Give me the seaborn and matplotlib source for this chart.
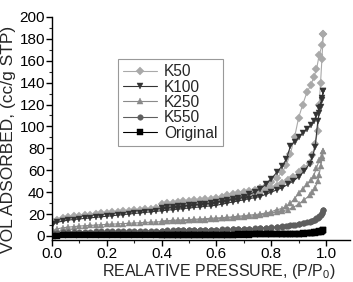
import matplotlib
matplotlib.use("Agg")
import matplotlib.pyplot as plt
import seaborn as sns
from matplotlib.ticker import MultipleLocator

# relative pressure points, adsorption branch and desorption branch
p_ads = [0.005, 0.02, 0.04, 0.06, 0.08, 0.10, 0.12, 0.14, 0.16, 0.18,
         0.20, 0.22, 0.24, 0.26, 0.28, 0.30, 0.32, 0.34, 0.36, 0.38,
         0.40, 0.42, 0.44, 0.46, 0.48, 0.50, 0.52, 0.54, 0.56, 0.58,
         0.60, 0.62, 0.64, 0.66, 0.68, 0.70, 0.72, 0.74, 0.76, 0.78,
         0.80, 0.82, 0.84, 0.86, 0.88, 0.90, 0.92, 0.94, 0.95, 0.96,
         0.97, 0.975, 0.98, 0.985, 0.99]
p_des = [0.99, 0.985, 0.975, 0.965, 0.955, 0.945, 0.93, 0.915, 0.90, 0.885,
         0.87, 0.855, 0.84, 0.82, 0.80, 0.78, 0.76, 0.74, 0.72, 0.70,
         0.68, 0.66, 0.64, 0.62, 0.60, 0.58, 0.56, 0.54, 0.52, 0.50,
         0.48, 0.46, 0.44, 0.42, 0.40]

k50_ads = [13, 15, 16, 17, 18, 18.5, 19, 19.5, 20, 20.5,
           21, 21.5, 22, 22.5, 23, 23.5, 24, 24.5, 25, 25.5,
           26, 26.5, 27, 27.5, 28, 28.5, 29, 29.5, 30, 30.5,
           31, 32, 33, 34, 35, 36, 37, 38, 40, 42,
           44, 46, 48, 51, 54, 58, 62, 67, 74, 84,
           96, 120, 140, 162, 184]
k50_des = [184, 174, 165, 152, 145, 138, 131, 120, 108, 90,
           75, 65, 58, 53, 49, 46, 44, 42, 41, 40,
           39, 38, 37, 36, 35, 34, 33.5, 33, 32.5, 32,
           31.5, 31, 30.5, 30, 29.5]

k100_ads = [11, 12.5, 13.5, 14.5, 15, 15.5, 16, 16.5, 17, 17.5,
            18, 18.5, 19, 19.5, 20, 20.5, 21, 21.5, 22, 22.5,
            23, 23.5, 24, 24.5, 25, 25.5, 26, 26.5, 27, 27.5,
            28, 29, 30, 31, 32, 33, 34, 35, 36, 38,
            40, 42, 44, 47, 50, 54, 59, 66, 72, 81,
            105, 112, 118, 124, 132]
k100_des = [132, 126, 117, 110, 105, 101, 98, 94, 90, 86,
            82, 70, 64, 58, 52, 47, 43, 40, 38, 36,
            35, 34, 33, 32, 31, 30, 29.5, 29, 28.5, 28,
            27.5, 27, 26.5, 26, 25.5]

k250_ads = [5, 6.5, 7.5, 8, 8.5, 9, 9.3, 9.6, 9.9, 10.2,
            10.5, 10.8, 11, 11.3, 11.5, 11.8, 12, 12.3, 12.5, 12.8,
            13, 13.3, 13.5, 13.8, 14, 14.3, 14.5, 14.8, 15, 15.3,
            15.6, 16, 16.4, 16.8, 17.2, 17.6, 18, 18.5, 19, 20,
            21, 22, 23, 24, 26, 29, 33, 37, 40, 44,
            50, 56, 64, 71, 78]
k250_des = [78, 73, 69, 62, 55, 51, 47, 43, 39, 34,
            30, 27, 25, 24, 22, 21, 20, 19.5, 19, 18.5,
            18, 17.5, 17, 16.7, 16.4, 16.1, 15.8, 15.5, 15.2, 15,
            14.7, 14.5, 14.2, 14, 13.7]

k550_ads = [2.5, 3, 3.3, 3.5, 3.7, 3.8, 3.9, 4, 4.1, 4.2,
            4.3, 4.4, 4.4, 4.5, 4.5, 4.6, 4.6, 4.7, 4.7, 4.8,
            4.8, 4.9, 4.9, 5, 5, 5.1, 5.2, 5.3, 5.4, 5.5,
            5.6, 5.7, 5.8, 5.9, 6, 6.2, 6.4, 6.6, 6.9, 7.2,
            7.6, 8, 8.5, 9.2, 10, 11, 12, 13, 14, 15,
            16.5, 17.5, 19, 21, 24]
k550_des = [24, 21, 18, 16, 14.5, 13.5, 12.5, 11.5, 11, 10.3,
            9.7, 9.2, 8.8, 8.3, 7.9, 7.5, 7.2, 6.9, 6.7, 6.5,
            6.3, 6.1, 6, 5.9, 5.8, 5.7, 5.6, 5.5, 5.4, 5.3,
            5.2, 5.1, 5, 5, 4.9]

orig_ads = [0.2, 0.3, 0.4, 0.4, 0.5, 0.5, 0.5, 0.6, 0.6, 0.6,
            0.7, 0.7, 0.7, 0.7, 0.8, 0.8, 0.8, 0.8, 0.9, 0.9,
            0.9, 0.9, 1, 1, 1, 1, 1, 1.1, 1.1, 1.1,
            1.1, 1.2, 1.2, 1.2, 1.3, 1.3, 1.3, 1.4, 1.4, 1.5,
            1.5, 1.6, 1.7, 1.8, 1.9, 2, 2.2, 2.5, 2.7, 3,
            3.3, 3.6, 4, 4.5, 5.5]
orig_des = [5.5, 4.8, 4.2, 3.6, 3.2, 2.9, 2.6, 2.4, 2.2, 2.1,
            2, 1.9, 1.8, 1.7, 1.6, 1.6, 1.5, 1.5, 1.4, 1.4,
            1.4, 1.3, 1.3, 1.3, 1.2, 1.2, 1.2, 1.2, 1.1, 1.1,
            1.1, 1.1, 1, 1, 1]

labels = ["K50", "K100", "K250", "K550", "Original"]
colors = ["#a9a9a9", "#333333", "#8a8a8a", "#5e5e5e", "#000000"]
markers = ["D", "v", "^", "o", "s"]
sizes = [3.8, 4.4, 4.4, 4.0, 4.0]

series = [(k50_ads, k50_des), (k100_ads, k100_des), (k250_ads, k250_des),
          (k550_ads, k550_des), (orig_ads, orig_des)]

sns.set_style("ticks")
plt.rcParams['font.family'] = ['Liberation Sans', 'DejaVu Sans']
plt.rcParams['mathtext.fontset'] = 'custom'
plt.rcParams['mathtext.rm'] = 'Liberation Sans'

fig = plt.figure(figsize=(3.53, 2.82), dpi=100)
ax = fig.add_axes([0.147, 0.149, 0.845, 0.791])

for (ads, des), lab, c, m, ms in zip(series, labels, colors, markers, sizes):
    kw = dict(color=c, marker=m, markersize=ms, markeredgecolor=c,
              markeredgewidth=0.3, linewidth=0.8, sort=False, ax=ax)
    sns.lineplot(x=p_ads, y=ads, label=lab, **kw)
    sns.lineplot(x=p_des, y=des, legend=False, **kw)

ax.set_xlim(0, 1.088)
ax.set_ylim(-3.7, 200)
ax.xaxis.set_major_locator(MultipleLocator(0.2))
ax.xaxis.set_minor_locator(MultipleLocator(0.1))
ax.yaxis.set_major_locator(MultipleLocator(20))
ax.yaxis.set_minor_locator(MultipleLocator(10))
ax.xaxis.set_major_formatter(matplotlib.ticker.FormatStrFormatter('%.1f'))
sns.despine(ax=ax)
for sp in ax.spines.values():
    sp.set_linewidth(1.0)
    sp.set_color("black")
ax.tick_params(which='major', direction='out', length=4, width=1,
               labelsize=11, colors='black', pad=1)
ax.tick_params(which='minor', direction='out', length=2, width=0.8)

ax.set_xlabel(r"REALATIVE PRESSURE, (P/P$_\mathregular{0}$)", fontsize=11.5)
ax.set_ylabel("VOL ADSORBED, (cc/g STP)", fontsize=12.5)
ax.xaxis.set_label_coords(0.56, -0.1)
ax.yaxis.set_label_coords(-0.12, 0.45)

leg = ax.legend(loc='upper left', bbox_to_anchor=(0.22, 0.812), borderaxespad=0,
                fontsize=11.2, frameon=True, fancybox=False, edgecolor='#808080',
                labelspacing=0.02, handlelength=2.2, handletextpad=0.45,
                borderpad=0.35)
leg.get_frame().set_linewidth(0.8)

fig.savefig("out.png", dpi=100)
